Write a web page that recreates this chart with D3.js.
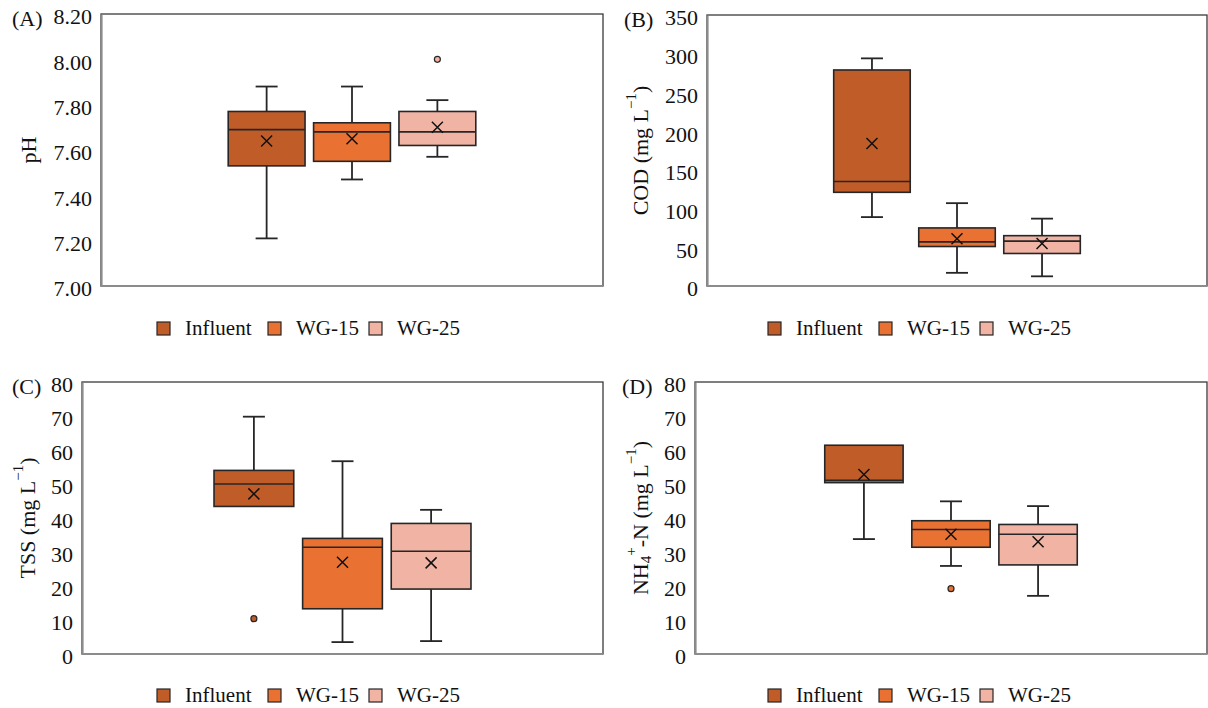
<!DOCTYPE html>
<html><head><meta charset="utf-8">
<script src="https://cdn.jsdelivr.net/npm/d3@7"></script>
<style>
html,body{margin:0;padding:0;background:#fff;}
svg{display:block;font-family:"Liberation Serif","Times New Roman",serif;}
</style></head>
<body><svg id="chart" width="1208" height="708"></svg>
<script>
// ---- shared ----
const series = ["Influent", "WG-15", "WG-25"];
const seriesColors = ["#C05C28", "#E97132", "#F1B3A4"];

// ---- (A) pH ----
const phMin     = [7.21, 7.47, 7.57];
const phQ1      = [7.53, 7.55, 7.62];
const phMedian  = [7.69, 7.68, 7.68];
const phQ3      = [7.77, 7.72, 7.77];
const phMax     = [7.88, 7.88, 7.82];
const phMean    = [7.64, 7.65, 7.70];
const phOutliers = [[], [], [8.00]];
const phTicks   = [7.00, 7.20, 7.40, 7.60, 7.80, 8.00, 8.20];

// ---- (B) COD ----
const codMin    = [89, 17, 12.5];
const codQ1     = [121, 51, 42];
const codMedian = [135, 57, 58];
const codQ3     = [279, 75, 65];
const codMax    = [294, 107, 87];
const codMean   = [184, 61, 55];
const codOutliers = [[], [], []];
const codTicks  = [0, 50, 100, 150, 200, 250, 300, 350];

// ---- (C) TSS ----
const tssMin    = [43.4, 3.5, 3.8];
const tssQ1     = [43.4, 13.3, 19.1];
const tssMedian = [50.0, 31.4, 30.2];
const tssQ3     = [54.0, 34.0, 38.4];
const tssMax    = [69.8, 56.7, 42.4];
const tssMean   = [47.1, 27.0, 26.8];
const tssOutliers = [[10.4], [], []];
const tssTicks  = [0, 10, 20, 30, 40, 50, 60, 70, 80];

// ---- (D) NH4+-N ----
const nhMin     = [33.8, 25.9, 17.1];
const nhQ1      = [50.4, 31.4, 26.2];
const nhMedian  = [51.1, 36.6, 35.2];
const nhQ3      = [61.4, 39.2, 38.1];
const nhMax     = [61.4, 44.9, 43.5];
const nhMean    = [52.8, 35.2, 33.0];
const nhOutliers = [[], [19.2], []];
const nhTicks   = [0, 10, 20, 30, 40, 50, 60, 70, 80];

function rows(mn, q1, md, q3, mx, mean, out) {
  return series.map((s, i) => ({name: s, color: seriesColors[i], min: mn[i], q1: q1[i],
    median: md[i], q3: q3[i], max: mx[i], mean: mean[i], outliers: out[i]}));
}

const panels = [
  {label: "(A)", title: [["pH"]], data: rows(phMin, phQ1, phMedian, phQ3, phMax, phMean, phOutliers),
   ticks: phTicks, fmt: d3.format(".2f"),
   box: {x0: 101, x1: 603, y0: 14, y1: 286}, labelX: 12, titleX: 28, legendX: 157, legendY: 335},
  {label: "(B)", title: [["COD (mg L"], ["\u22121", "sup"], [")", "base"]],
   data: rows(codMin, codQ1, codMedian, codQ3, codMax, codMean, codOutliers),
   ticks: codTicks, fmt: d3.format("d"),
   box: {x0: 707, x1: 1207, y0: 15, y1: 286}, labelX: 624, titleX: 640, legendX: 768, legendY: 335},
  {label: "(C)", title: [["TSS (mg L"], ["\u22121", "sup"], [")", "base"]],
   data: rows(tssMin, tssQ1, tssMedian, tssQ3, tssMax, tssMean, tssOutliers),
   ticks: tssTicks, fmt: d3.format("d"),
   box: {x0: 82, x1: 603, y0: 382, y1: 654}, labelX: 12, titleX: 27, legendX: 157, legendY: 702},
  {label: "(D)", title: [["NH"], ["4", "sub"], ["+", "supFromSub"], ["-N (mg L", "baseFromSup"], ["\u22121", "sup"], [")", "base"]],
   data: rows(nhMin, nhQ1, nhMedian, nhQ3, nhMax, nhMean, nhOutliers),
   ticks: nhTicks, fmt: d3.format("d"),
   box: {x0: 695, x1: 1207, y0: 382, y1: 654}, labelX: 622, titleX: 640, legendX: 768, legendY: 702}
];

const svg = d3.select("#chart");
const dark = "#262626";

panels.forEach(p => {
  const g = svg.append("g");
  const b = p.box;
  const ticks = p.ticks;
  const y = d3.scaleLinear().domain([ticks[0], ticks[ticks.length - 1]]).range([b.y1, b.y0]);
  const x = d3.scaleBand().domain(series).range([b.x0, b.x1]).paddingInner(0.1).paddingOuter(1.49);

  // frame
  g.append("rect").attr("x", b.x0).attr("y", b.y0).attr("width", b.x1 - b.x0).attr("height", b.y1 - b.y0)
    .attr("fill", "#fff").attr("stroke", "#3a3a3a").attr("stroke-width", 1.3);

  // y axis via d3 axis
  const yAxis = d3.axisLeft(y).tickValues(ticks).tickFormat(p.fmt).tickSize(0).tickPadding(9);
  const ag = g.append("g").attr("transform", `translate(${b.x0},0)`).call(yAxis);
  ag.select(".domain").attr("stroke", "#8c8c8c").attr("stroke-width", 2.2);
  ag.selectAll("text").attr("font-family", "Liberation Serif").attr("font-size", 22).attr("fill", "#111").attr("dy", "0.45em");
  g.append("line").attr("x1", b.x0).attr("x2", b.x1).attr("y1", b.y1).attr("y2", b.y1)
    .attr("stroke", "#8c8c8c").attr("stroke-width", 2.2);

  const cap = 22;
  const bw = x.bandwidth();
  p.data.forEach(d => {
    const cx = x(d.name) + bw / 2;
    const gg = g.append("g");
    // whiskers
    if (d.max > d.q3) {
      gg.append("line").attr("x1", cx).attr("x2", cx).attr("y1", y(d.max)).attr("y2", y(d.q3)).attr("stroke", dark).attr("stroke-width", 1.8);
      gg.append("line").attr("x1", cx - cap / 2).attr("x2", cx + cap / 2).attr("y1", y(d.max)).attr("y2", y(d.max)).attr("stroke", dark).attr("stroke-width", 1.8);
    }
    if (d.min < d.q1) {
      gg.append("line").attr("x1", cx).attr("x2", cx).attr("y1", y(d.q1)).attr("y2", y(d.min)).attr("stroke", dark).attr("stroke-width", 1.8);
      gg.append("line").attr("x1", cx - cap / 2).attr("x2", cx + cap / 2).attr("y1", y(d.min)).attr("y2", y(d.min)).attr("stroke", dark).attr("stroke-width", 1.8);
    }
    // box
    gg.append("rect").attr("x", x(d.name)).attr("y", y(d.q3)).attr("width", bw).attr("height", y(d.q1) - y(d.q3))
      .attr("fill", d.color).attr("stroke", dark).attr("stroke-width", 1.6);
    // median
    gg.append("line").attr("x1", x(d.name)).attr("x2", x(d.name) + bw).attr("y1", y(d.median)).attr("y2", y(d.median))
      .attr("stroke", dark).attr("stroke-width", 1.6);
    // mean ×
    const m = 5.5, my = y(d.mean);
    gg.append("path").attr("d", `M${cx - m},${my - m}L${cx + m},${my + m}M${cx - m},${my + m}L${cx + m},${my - m}`)
      .attr("stroke", "#111").attr("stroke-width", 1.5).attr("fill", "none");
    // outliers
    d.outliers.forEach(o => {
      gg.append("circle").attr("cx", cx).attr("cy", y(o)).attr("r", 3)
        .attr("fill", d.color).attr("stroke", dark).attr("stroke-width", 1.2);
    });
  });

  // panel label
  g.append("text").attr("x", p.labelX).attr("y", b.y0 + 12).attr("font-size", 22).attr("fill", "#111").text(p.label);

  // y title
  const t = g.append("text").attr("transform", `translate(${p.titleX},${(b.y0 + b.y1) / 2}) rotate(-90)`)
    .attr("text-anchor", "middle").attr("dominant-baseline", "central").attr("font-size", 22).attr("fill", "#111");
  p.title.forEach(([txt, kind]) => {
    const ts = t.append("tspan").text(txt);
    if (kind === "sup") ts.attr("font-size", 15).attr("dy", -9);
    else if (kind === "base") ts.attr("dy", 9);
    else if (kind === "sub") ts.attr("font-size", 15).attr("dy", 6);
    else if (kind === "supFromSub") ts.attr("font-size", 15).attr("dy", -15);
    else if (kind === "baseFromSup") ts.attr("dy", 9);
  });

  // legend
  const offsets = [0, 111, 212];
  const lg = g.append("g");
  series.forEach((s, i) => {
    const lx = p.legendX + offsets[i];
    lg.append("rect").attr("x", lx).attr("y", p.legendY - 13).attr("width", 13).attr("height", 13)
      .attr("fill", seriesColors[i]).attr("stroke", dark).attr("stroke-width", 1.2);
    lg.append("text").attr("x", lx + 28).attr("y", p.legendY).attr("font-size", 21).attr("fill", "#111").text(s);
  });
});
</script></body></html>
